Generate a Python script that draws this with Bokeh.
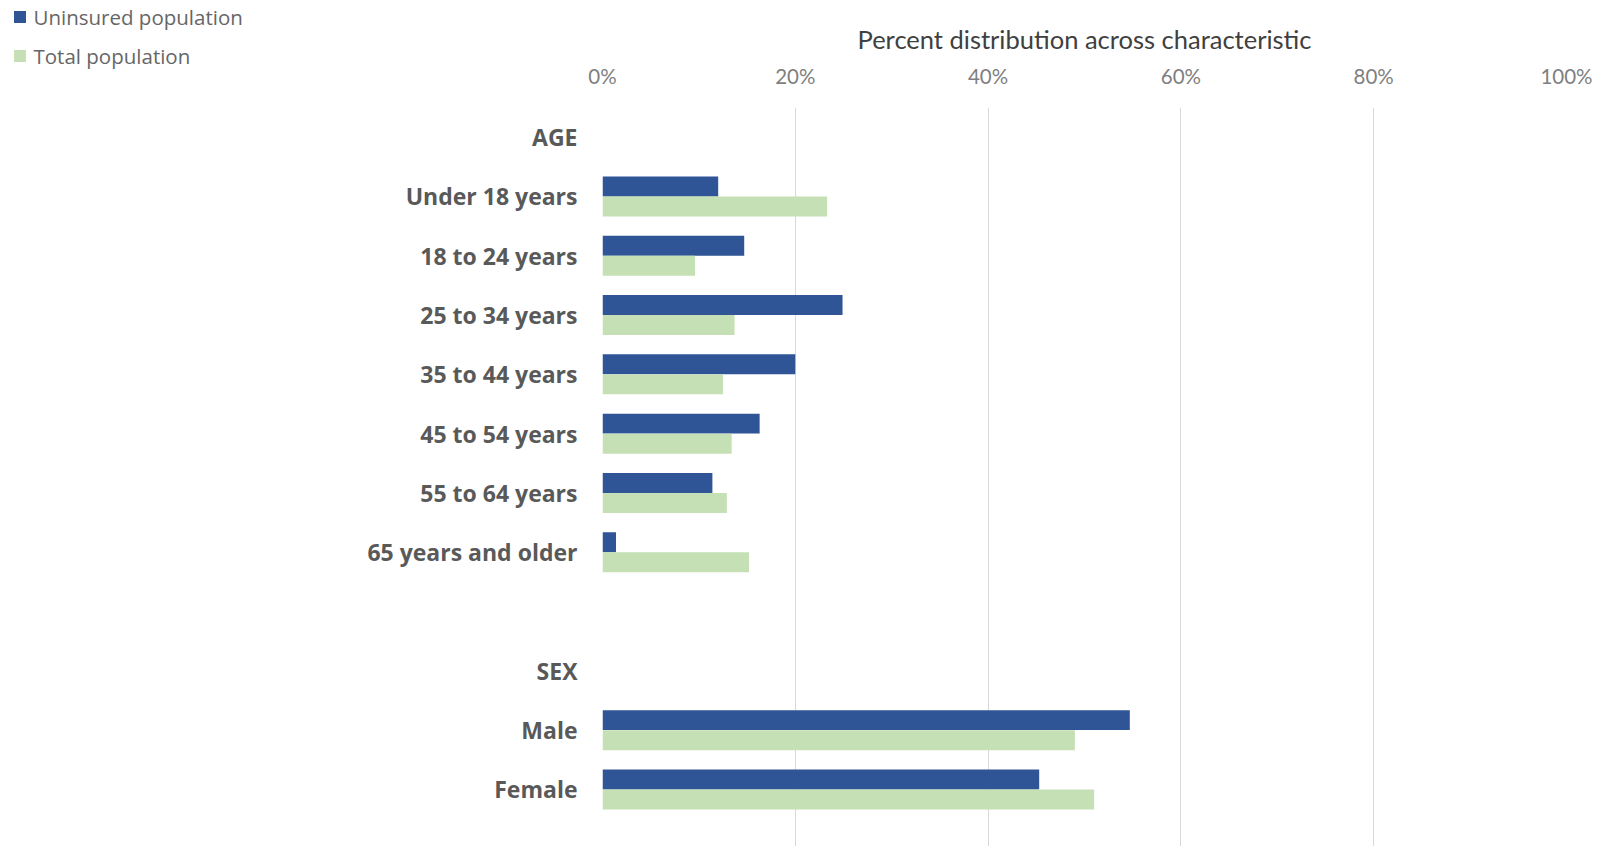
from bokeh.plotting import figure
from bokeh.models import ColumnDataSource, Range1d, FixedTicker
from bokeh.core.properties import value
from bokeh.layouts import row
from bokeh.embed import file_html
from bokeh.resources import INLINE

# ---- data ----
row_labels = ["AGE", "Under 18 years", "18 to 24 years", "25 to 34 years",
              "35 to 44 years", "45 to 54 years", "55 to 64 years",
              "65 years and older", "", "SEX", "Male", "Female"]
bar_categories = ["Under 18 years", "18 to 24 years", "25 to 34 years",
                  "35 to 44 years", "45 to 54 years", "55 to 64 years",
                  "65 years and older", "Male", "Female"]
uninsured_pct = [12.0, 14.7, 24.9, 20.0, 16.3, 11.4, 1.4, 54.7, 45.3]
total_pct = [23.3, 9.6, 13.7, 12.5, 13.4, 12.9, 15.2, 49.0, 51.0]
x_tick_values = [0, 20, 40, 60, 80, 100]
x_tick_labels = ["0%", "20%", "40%", "60%", "80%", "100%"]
series_names = ["Uninsured population", "Total population"]
x_title = "Percent distribution across characteristic"

BLUE = "#2F5597"
GREEN = "#C5E0B4"
series_colors = [BLUE, GREEN]

TOTAL_W = 1600
H = 846
LEG_W = 340
MAIN_W = TOTAL_W - LEG_W
FRAME_LEFT = 602
FRAME_RIGHT = 1566
FRAME_TOP = 107

n = len(row_labels)
pos = {lab: n - 1 - i for i, lab in enumerate(row_labels)}
bar_y = [pos[c] for c in bar_categories]
off = 0.169
h = 0.337

src = ColumnDataSource(dict(
    cat=bar_categories,
    y_un=[y + off for y in bar_y],
    y_tot=[y - off for y in bar_y],
    un=uninsured_pct,
    tot=total_pct,
))

row_px = 59.3
y_end = n - 0.5
y_start = y_end - (H - FRAME_TOP) / row_px

p = figure(width=MAIN_W, height=H, output_backend="svg", toolbar_location=None,
           x_range=Range1d(0, 100), y_range=Range1d(y_start, y_end),
           x_axis_location="above",
           min_border_left=FRAME_LEFT - LEG_W,
           min_border_right=TOTAL_W - FRAME_RIGHT,
           min_border_top=FRAME_TOP, min_border_bottom=0)
p.outline_line_color = None
p.background_fill_color = "white"
p.border_fill_color = "white"

p.hbar(y="y_un", right="un", left=0, height=h, source=src,
       fill_color=BLUE, line_color=None)
p.hbar(y="y_tot", right="tot", left=0, height=h, source=src,
       fill_color=GREEN, line_color=None)

# x axis (above)
xa = p.xaxis[0]
xa.ticker = FixedTicker(ticks=x_tick_values)
xa.major_label_overrides = {v: l for v, l in zip(x_tick_values, x_tick_labels)}
xa.axis_line_color = None
xa.major_tick_line_color = None
xa.minor_tick_line_color = None
xa.major_label_text_font = "Lato"
xa.major_label_text_font_size = "20.5px"
xa.major_label_text_color = "#7F7F7F"
xa.major_label_standoff = 14
xa.axis_label = x_title
xa.axis_label_text_font = "Lato"
xa.axis_label_text_font_size = "25.5px"
xa.axis_label_text_font_style = "normal"
xa.axis_label_text_color = "#404040"
xa.axis_label_standoff = 7

# y axis
ya = p.yaxis[0]
tick_pos = [pos[l] for l in row_labels if l != ""]
ya.ticker = FixedTicker(ticks=tick_pos)
ya.major_label_overrides = {pos[l]: l for l in row_labels if l != ""}
ya.axis_line_color = None
ya.major_tick_line_color = None
ya.minor_tick_line_color = None
ya.major_label_text_font = "Open Sans"
ya.major_label_text_font_style = "bold"
ya.major_label_text_font_size = "23px"
ya.major_label_text_color = "#595959"
ya.major_label_standoff = 19

p.xgrid.ticker = FixedTicker(ticks=x_tick_values)
p.xgrid.grid_line_color = "#D9D9D9"
p.xgrid.grid_line_width = 1
p.ygrid.grid_line_color = None

# legend strip (left), pixel-mapped ranges
lf = figure(width=LEG_W, height=H, output_backend="svg", toolbar_location=None,
            x_axis_location=None, y_axis_location=None,
            x_range=Range1d(0, LEG_W), y_range=Range1d(H, 0),
            min_border=0, min_border_left=0, min_border_right=0,
            min_border_top=0, min_border_bottom=0)
lf.outline_line_color = None
lf.grid.grid_line_color = None
lf.background_fill_color = "white"
lf.border_fill_color = "white"

# keep each figure's frame independent inside the row
for fig in (lf, p):
    if "frame_align" in fig.properties():
        fig.frame_align = False

SW_X = 19.5      # swatch centre x (px)
SW_Y0 = 16.5     # first item centre y (px)
SW_DY = 39       # item pitch (px)
SW_SIZE = 12
TXT_X = 33
leg_src = ColumnDataSource(dict(
    name=series_names,
    color=series_colors,
    x=[SW_X] * len(series_names),
    tx=[TXT_X] * len(series_names),
    y=[SW_Y0 + i * SW_DY for i in range(len(series_names))],
))
lf.rect(x="x", y="y", width=SW_SIZE, height=SW_SIZE, source=leg_src,
        fill_color="color", line_color=None)
lf.text(x="tx", y="y", text="name", source=leg_src,
        text_baseline="middle", text_align="left",
        text_font=value("Open Sans"), text_font_size="20.5px",
        text_color="#666666")

layout = row(lf, p, spacing=0)
open("out.html", "w").write(file_html(layout, INLINE))
